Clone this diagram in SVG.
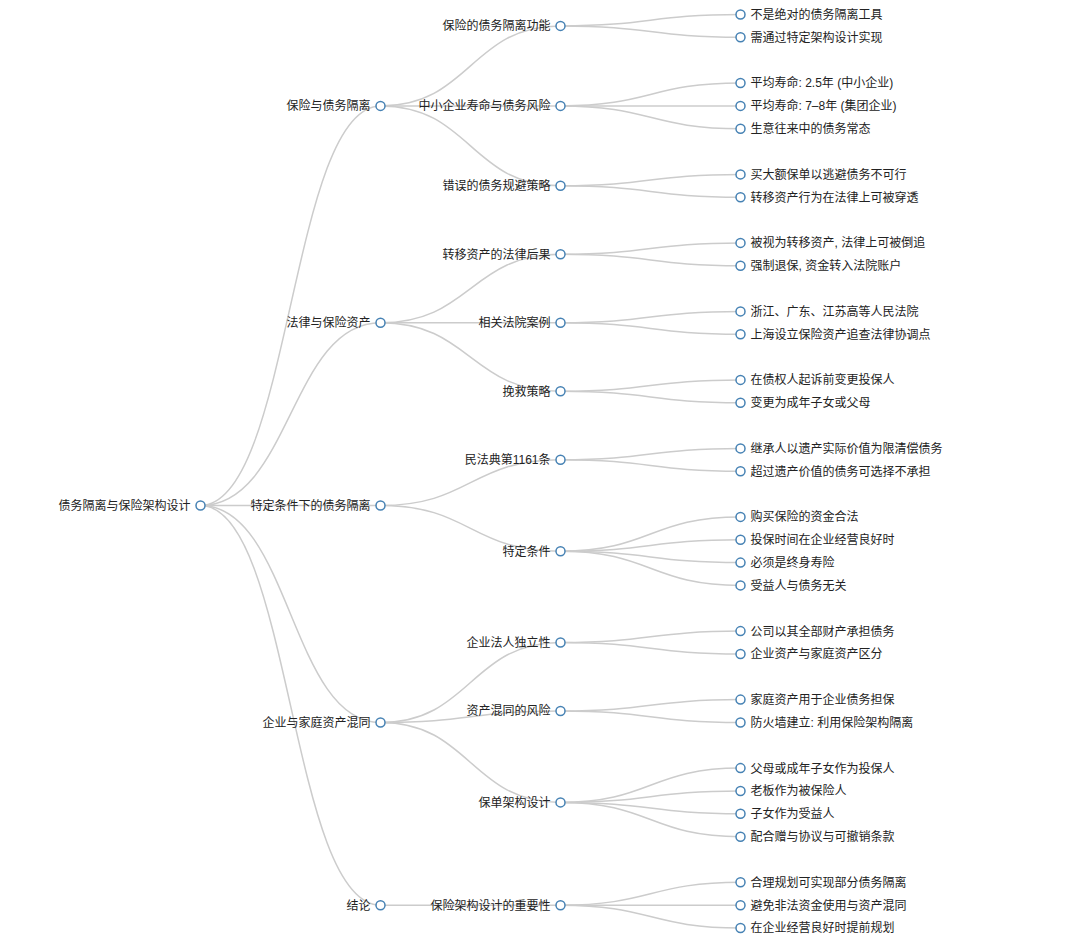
<svg xmlns="http://www.w3.org/2000/svg" width="1077" height="948" viewBox="0 0 1077 948">
<style>
.link{fill:none;stroke:#ccc;stroke-width:1.5}
.node circle{fill:#fff;stroke:#4682b4;stroke-width:1.5}
.node text{font-family:"Liberation Sans","Noto Sans CJK SC",sans-serif;font-size:12px;fill:#222}
.l text{text-anchor:end}
.r text{text-anchor:start}
</style>
<rect width="1077" height="948" fill="#fff"/>
<g id="links">
<path class="link" d="M200.5,505.5C290.5,505.5 290.5,105.9 380.5,105.9"/>
<path class="link" d="M200.5,505.5C290.5,505.5 290.5,322.8 380.5,322.8"/>
<path class="link" d="M200.5,505.5C290.5,505.5 290.5,505.5 380.5,505.5"/>
<path class="link" d="M200.5,505.5C290.5,505.5 290.5,722.5 380.5,722.5"/>
<path class="link" d="M200.5,505.5C290.5,505.5 290.5,905.2 380.5,905.2"/>
<path class="link" d="M380.5,105.9C470.5,105.9 470.5,25.9 560.5,25.9"/>
<path class="link" d="M380.5,105.9C470.5,105.9 470.5,105.9 560.5,105.9"/>
<path class="link" d="M380.5,105.9C470.5,105.9 470.5,185.8 560.5,185.8"/>
<path class="link" d="M380.5,322.8C470.5,322.8 470.5,254.3 560.5,254.3"/>
<path class="link" d="M380.5,322.8C470.5,322.8 470.5,322.8 560.5,322.8"/>
<path class="link" d="M380.5,322.8C470.5,322.8 470.5,391.3 560.5,391.3"/>
<path class="link" d="M380.5,505.5C470.5,505.5 470.5,459.8 560.5,459.8"/>
<path class="link" d="M380.5,505.5C470.5,505.5 470.5,551.2 560.5,551.2"/>
<path class="link" d="M380.5,722.5C470.5,722.5 470.5,642.5 560.5,642.5"/>
<path class="link" d="M380.5,722.5C470.5,722.5 470.5,711.0 560.5,711.0"/>
<path class="link" d="M380.5,722.5C470.5,722.5 470.5,802.4 560.5,802.4"/>
<path class="link" d="M380.5,905.2C470.5,905.2 470.5,905.2 560.5,905.2"/>
<path class="link" d="M560.5,25.9C650.5,25.9 650.5,14.5 740.5,14.5"/>
<path class="link" d="M560.5,25.9C650.5,25.9 650.5,37.3 740.5,37.3"/>
<path class="link" d="M560.5,105.9C650.5,105.9 650.5,83.0 740.5,83.0"/>
<path class="link" d="M560.5,105.9C650.5,105.9 650.5,105.9 740.5,105.9"/>
<path class="link" d="M560.5,105.9C650.5,105.9 650.5,128.7 740.5,128.7"/>
<path class="link" d="M560.5,185.8C650.5,185.8 650.5,174.4 740.5,174.4"/>
<path class="link" d="M560.5,185.8C650.5,185.8 650.5,197.2 740.5,197.2"/>
<path class="link" d="M560.5,254.3C650.5,254.3 650.5,242.9 740.5,242.9"/>
<path class="link" d="M560.5,254.3C650.5,254.3 650.5,265.7 740.5,265.7"/>
<path class="link" d="M560.5,322.8C650.5,322.8 650.5,311.4 740.5,311.4"/>
<path class="link" d="M560.5,322.8C650.5,322.8 650.5,334.2 740.5,334.2"/>
<path class="link" d="M560.5,391.3C650.5,391.3 650.5,379.9 740.5,379.9"/>
<path class="link" d="M560.5,391.3C650.5,391.3 650.5,402.7 740.5,402.7"/>
<path class="link" d="M560.5,459.8C650.5,459.8 650.5,448.4 740.5,448.4"/>
<path class="link" d="M560.5,459.8C650.5,459.8 650.5,471.3 740.5,471.3"/>
<path class="link" d="M560.5,551.2C650.5,551.2 650.5,516.9 740.5,516.9"/>
<path class="link" d="M560.5,551.2C650.5,551.2 650.5,539.8 740.5,539.8"/>
<path class="link" d="M560.5,551.2C650.5,551.2 650.5,562.6 740.5,562.6"/>
<path class="link" d="M560.5,551.2C650.5,551.2 650.5,585.4 740.5,585.4"/>
<path class="link" d="M560.5,642.5C650.5,642.5 650.5,631.1 740.5,631.1"/>
<path class="link" d="M560.5,642.5C650.5,642.5 650.5,654.0 740.5,654.0"/>
<path class="link" d="M560.5,711.0C650.5,711.0 650.5,699.6 740.5,699.6"/>
<path class="link" d="M560.5,711.0C650.5,711.0 650.5,722.5 740.5,722.5"/>
<path class="link" d="M560.5,802.4C650.5,802.4 650.5,768.1 740.5,768.1"/>
<path class="link" d="M560.5,802.4C650.5,802.4 650.5,791.0 740.5,791.0"/>
<path class="link" d="M560.5,802.4C650.5,802.4 650.5,813.8 740.5,813.8"/>
<path class="link" d="M560.5,802.4C650.5,802.4 650.5,836.7 740.5,836.7"/>
<path class="link" d="M560.5,905.2C650.5,905.2 650.5,882.3 740.5,882.3"/>
<path class="link" d="M560.5,905.2C650.5,905.2 650.5,905.2 740.5,905.2"/>
<path class="link" d="M560.5,905.2C650.5,905.2 650.5,928.0 740.5,928.0"/>
</g>
<g id="root" class="node l" transform="translate(200.5,505.5)"><circle r="4.5"/><text x="-10" y="4.4">债务隔离与保险架构设计</text></g>
<g id="n1" class="node l" transform="translate(380.5,105.9)"><circle r="4.5"/><text x="-10" y="4.4">保险与债务隔离</text></g>
<g id="n2" class="node l" transform="translate(380.5,322.8)"><circle r="4.5"/><text x="-10" y="4.4">法律与保险资产</text></g>
<g id="n3" class="node l" transform="translate(380.5,505.5)"><circle r="4.5"/><text x="-10" y="4.4">特定条件下的债务隔离</text></g>
<g id="n4" class="node l" transform="translate(380.5,722.5)"><circle r="4.5"/><text x="-10" y="4.4">企业与家庭资产混同</text></g>
<g id="n5" class="node l" transform="translate(380.5,905.2)"><circle r="4.5"/><text x="-10" y="4.4">结论</text></g>
<g id="n1a" class="node l" transform="translate(560.5,25.9)"><circle r="4.5"/><text x="-10" y="4.4">保险的债务隔离功能</text></g>
<g id="n1b" class="node l" transform="translate(560.5,105.9)"><circle r="4.5"/><text x="-10" y="4.4">中小企业寿命与债务风险</text></g>
<g id="n1c" class="node l" transform="translate(560.5,185.8)"><circle r="4.5"/><text x="-10" y="4.4">错误的债务规避策略</text></g>
<g id="n2a" class="node l" transform="translate(560.5,254.3)"><circle r="4.5"/><text x="-10" y="4.4">转移资产的法律后果</text></g>
<g id="n2b" class="node l" transform="translate(560.5,322.8)"><circle r="4.5"/><text x="-10" y="4.4">相关法院案例</text></g>
<g id="n2c" class="node l" transform="translate(560.5,391.3)"><circle r="4.5"/><text x="-10" y="4.4">挽救策略</text></g>
<g id="n3a" class="node l" transform="translate(560.5,459.8)"><circle r="4.5"/><text x="-10" y="4.4">民法典第1161条</text></g>
<g id="n3b" class="node l" transform="translate(560.5,551.2)"><circle r="4.5"/><text x="-10" y="4.4">特定条件</text></g>
<g id="n4a" class="node l" transform="translate(560.5,642.5)"><circle r="4.5"/><text x="-10" y="4.4">企业法人独立性</text></g>
<g id="n4b" class="node l" transform="translate(560.5,711.0)"><circle r="4.5"/><text x="-10" y="4.4">资产混同的风险</text></g>
<g id="n4c" class="node l" transform="translate(560.5,802.4)"><circle r="4.5"/><text x="-10" y="4.4">保单架构设计</text></g>
<g id="n5a" class="node l" transform="translate(560.5,905.2)"><circle r="4.5"/><text x="-10" y="4.4">保险架构设计的重要性</text></g>
<g id="leaf1" class="node r" transform="translate(740.5,14.5)"><circle r="4.5"/><text x="10" y="4.4">不是绝对的债务隔离工具</text></g>
<g id="leaf2" class="node r" transform="translate(740.5,37.3)"><circle r="4.5"/><text x="10" y="4.4">需通过特定架构设计实现</text></g>
<g id="leaf3" class="node r" transform="translate(740.5,83.0)"><circle r="4.5"/><text x="10" y="4.4">平均寿命: 2.5年 (中小企业)</text></g>
<g id="leaf4" class="node r" transform="translate(740.5,105.9)"><circle r="4.5"/><text x="10" y="4.4">平均寿命: 7–8年 (集团企业)</text></g>
<g id="leaf5" class="node r" transform="translate(740.5,128.7)"><circle r="4.5"/><text x="10" y="4.4">生意往来中的债务常态</text></g>
<g id="leaf6" class="node r" transform="translate(740.5,174.4)"><circle r="4.5"/><text x="10" y="4.4">买大额保单以逃避债务不可行</text></g>
<g id="leaf7" class="node r" transform="translate(740.5,197.2)"><circle r="4.5"/><text x="10" y="4.4">转移资产行为在法律上可被穿透</text></g>
<g id="leaf8" class="node r" transform="translate(740.5,242.9)"><circle r="4.5"/><text x="10" y="4.4">被视为转移资产, 法律上可被倒追</text></g>
<g id="leaf9" class="node r" transform="translate(740.5,265.7)"><circle r="4.5"/><text x="10" y="4.4">强制退保, 资金转入法院账户</text></g>
<g id="leaf10" class="node r" transform="translate(740.5,311.4)"><circle r="4.5"/><text x="10" y="4.4">浙江、广东、江苏高等人民法院</text></g>
<g id="leaf11" class="node r" transform="translate(740.5,334.2)"><circle r="4.5"/><text x="10" y="4.4">上海设立保险资产追查法律协调点</text></g>
<g id="leaf12" class="node r" transform="translate(740.5,379.9)"><circle r="4.5"/><text x="10" y="4.4">在债权人起诉前变更投保人</text></g>
<g id="leaf13" class="node r" transform="translate(740.5,402.7)"><circle r="4.5"/><text x="10" y="4.4">变更为成年子女或父母</text></g>
<g id="leaf14" class="node r" transform="translate(740.5,448.4)"><circle r="4.5"/><text x="10" y="4.4">继承人以遗产实际价值为限清偿债务</text></g>
<g id="leaf15" class="node r" transform="translate(740.5,471.3)"><circle r="4.5"/><text x="10" y="4.4">超过遗产价值的债务可选择不承担</text></g>
<g id="leaf16" class="node r" transform="translate(740.5,516.9)"><circle r="4.5"/><text x="10" y="4.4">购买保险的资金合法</text></g>
<g id="leaf17" class="node r" transform="translate(740.5,539.8)"><circle r="4.5"/><text x="10" y="4.4">投保时间在企业经营良好时</text></g>
<g id="leaf18" class="node r" transform="translate(740.5,562.6)"><circle r="4.5"/><text x="10" y="4.4">必须是终身寿险</text></g>
<g id="leaf19" class="node r" transform="translate(740.5,585.4)"><circle r="4.5"/><text x="10" y="4.4">受益人与债务无关</text></g>
<g id="leaf20" class="node r" transform="translate(740.5,631.1)"><circle r="4.5"/><text x="10" y="4.4">公司以其全部财产承担债务</text></g>
<g id="leaf21" class="node r" transform="translate(740.5,654.0)"><circle r="4.5"/><text x="10" y="4.4">企业资产与家庭资产区分</text></g>
<g id="leaf22" class="node r" transform="translate(740.5,699.6)"><circle r="4.5"/><text x="10" y="4.4">家庭资产用于企业债务担保</text></g>
<g id="leaf23" class="node r" transform="translate(740.5,722.5)"><circle r="4.5"/><text x="10" y="4.4">防火墙建立: 利用保险架构隔离</text></g>
<g id="leaf24" class="node r" transform="translate(740.5,768.1)"><circle r="4.5"/><text x="10" y="4.4">父母或成年子女作为投保人</text></g>
<g id="leaf25" class="node r" transform="translate(740.5,791.0)"><circle r="4.5"/><text x="10" y="4.4">老板作为被保险人</text></g>
<g id="leaf26" class="node r" transform="translate(740.5,813.8)"><circle r="4.5"/><text x="10" y="4.4">子女作为受益人</text></g>
<g id="leaf27" class="node r" transform="translate(740.5,836.7)"><circle r="4.5"/><text x="10" y="4.4">配合赠与协议与可撤销条款</text></g>
<g id="leaf28" class="node r" transform="translate(740.5,882.3)"><circle r="4.5"/><text x="10" y="4.4">合理规划可实现部分债务隔离</text></g>
<g id="leaf29" class="node r" transform="translate(740.5,905.2)"><circle r="4.5"/><text x="10" y="4.4">避免非法资金使用与资产混同</text></g>
<g id="leaf30" class="node r" transform="translate(740.5,928.0)"><circle r="4.5"/><text x="10" y="4.4">在企业经营良好时提前规划</text></g>
</svg>
